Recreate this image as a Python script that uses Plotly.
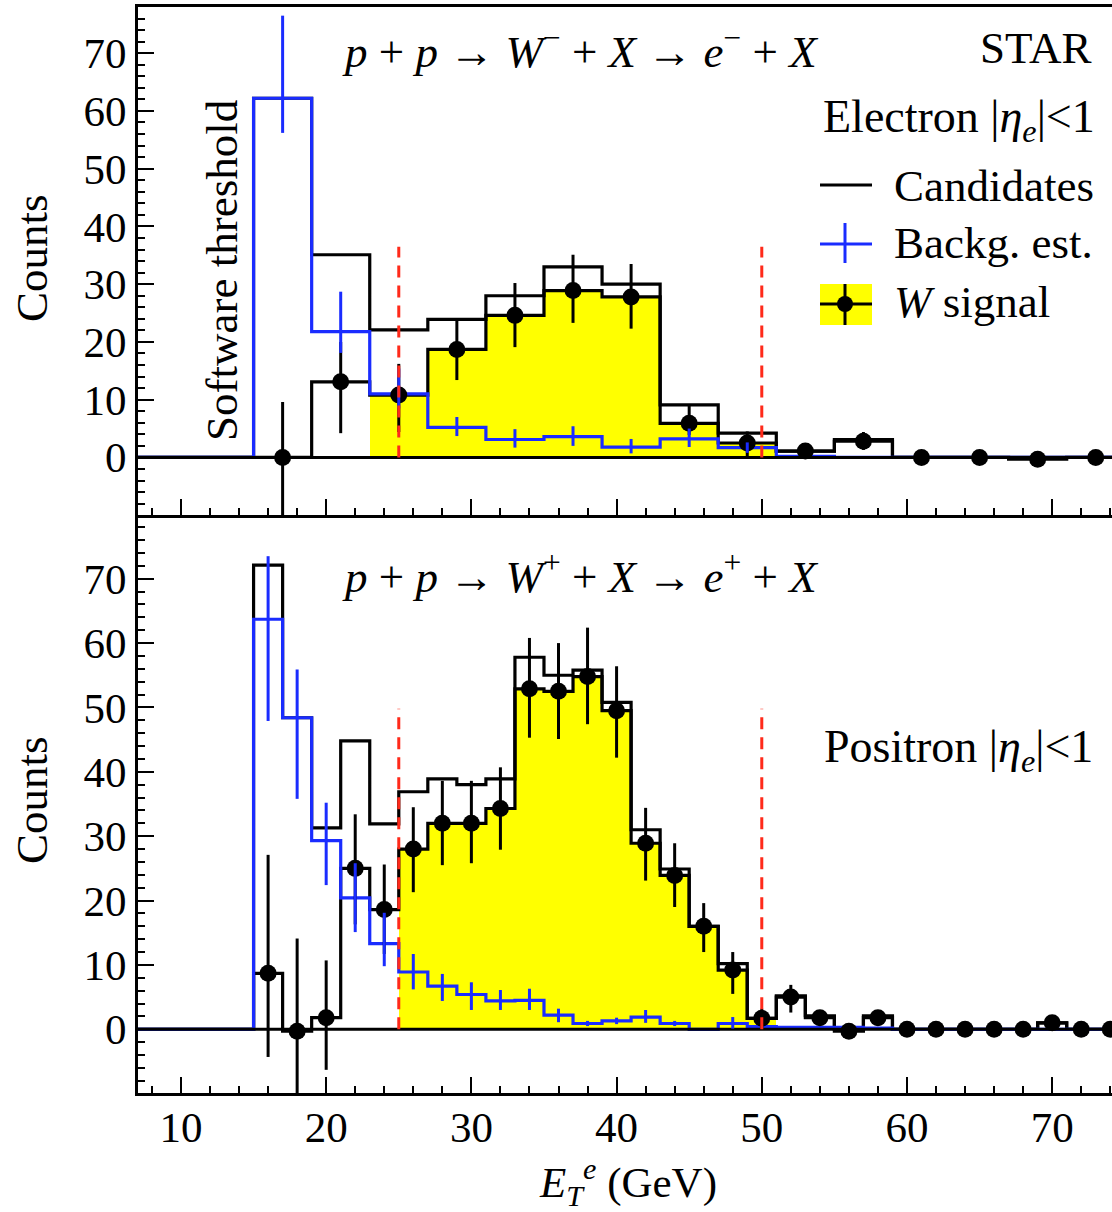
import plotly.graph_objects as go

W, H = 1112, 1212
FONT = "Liberation Serif, Times New Roman, serif"

# ---------------- data: top panel (W-), 4 GeV bins ----------------
top_edges = [15, 19, 23, 27, 31, 35, 39, 43, 47, 51, 55, 59, 63, 67, 71, 75]
top_centers = [17, 21, 25, 29, 33, 37, 41, 45, 49, 53, 57, 61, 65, 69, 73]
top_cand = [62.2, 35.1, 22.1, 23.9, 28.0, 33.0, 30.0, 9.1, 4.2, 1.1, 3.1, 0, 0, 0, 0]
top_bkg = [62.2, 21.8, 11.0, 5.2, 3.1, 3.6, 1.8, 3.2, 1.7, 0.2, 0, 0, 0, 0, 0]
top_bkg_ep = [14.3, 6.9, 4.4, 1.8, 1.8, 1.8, 1.4, 1.8, 0.9, 0, 0, 0, 0, 0, 0]
top_bkg_em = [6.0, 3.7, 2.5, 1.5, 1.4, 1.6, 1.1, 1.4, 0.9, 0, 0, 0, 0, 0, 0]
top_sig = [0, 13.1, 10.8, 18.7, 24.6, 28.9, 27.8, 5.9, 2.5, 1.1, 2.8, 0, 0, -0.3, 0]
top_sig_ep = [9.6, 6.9, 5.4, 5.0, 5.6, 6.2, 5.7, 3.0, 2.0, 0.8, 1.6, 0, 0, 0, 0]
top_sig_em = [10.5, 8.9, 6.4, 5.3, 5.5, 5.6, 5.5, 2.0, 2.3, 0.8, 1.5, 0, 0, 0, 0]
top_yellow_centers = [25, 29, 33, 37, 41, 45, 49]
top_yellow = [10.8, 18.7, 24.6, 28.9, 27.8, 5.9, 2.5]

# ---------------- data: bottom panel (W+), 2 GeV bins ----------------
bot_edges = [15, 17, 19, 21, 23, 25, 27, 29, 31, 33, 35, 37, 39, 41, 43, 45, 47, 49,
             51, 53, 55, 57, 59, 61, 63, 65, 67, 69, 71, 73, 75]
bot_centers = [16, 18, 20, 22, 24, 26, 28, 30, 32, 34, 36, 38, 40, 42, 44, 46, 48, 50,
               52, 54, 56, 58, 60, 62, 64, 66, 68, 70, 72, 74]
bot_cand = [72.1, 48.4, 31.3, 44.8, 31.9, 36.9, 38.9, 38.0, 38.9, 57.8, 55.0, 55.8, 50.8,
            31.0, 24.9, 16.0, 10.2, 1.7, 5.2, 2.1, 0, 2.1, 0, 0, 0, 0, 0, 1.0, 0, 0]
bot_bkg = [63.7, 48.4, 29.3, 20.4, 13.3, 8.9, 6.7, 5.4, 4.4, 4.5, 2.2, 0.9, 1.3, 1.9, 0.9,
           0, 0.9, 0.4, 0.3, 0.3, 0.3, 0.2, 0, 0, 0, 0, 0, 0, 0, 0]
bot_bkg_ep = [9.8, 7.5, 5.9, 5.4, 4.8, 2.8, 1.9, 1.9, 1.7, 1.8, 1.0, 0.4, 0.5, 1.1, 0.4,
              0, 1.0, 0, 0, 0, 0, 0, 0, 0, 0, 0, 0, 0, 0, 0]
bot_bkg_em = [15.8, 12.6, 6.9, 5.3, 3.5, 2.7, 2.3, 2.4, 1.4, 1.5, 1.1, 0.4, 0.5, 0.9, 0.4,
              0, 0.8, 0, 0, 0, 0, 0, 0, 0, 0, 0, 0, 0, 0, 0]
bot_sig = [8.7, -0.3, 1.8, 25.0, 18.6, 28.0, 32.0, 32.0, 34.3, 52.9, 52.5, 54.8, 49.5,
           28.9, 23.9, 16.0, 9.2, 1.7, 5.0, 1.8, -0.3, 1.8, 0, 0, 0, 0, 0, 1.0, 0, 0]
bot_sig_ep = [18.4, 14.4, 8.9, 8.4, 7.0, 6.5, 6.6, 6.6, 6.4, 7.9, 7.5, 7.6, 6.9, 5.5, 5.0,
              3.6, 2.8, 1.5, 1.9, 1.2, 0, 1.2, 0, 0, 0, 0, 0, 0.8, 0, 0]
bot_sig_em = [13.0, 14.0, 8.1, 8.7, 6.9, 6.7, 6.5, 6.2, 6.4, 7.6, 7.4, 7.4, 7.3, 5.8, 4.9,
              4.0, 3.7, 1.5, 2.4, 1.2, 0, 1.2, 0, 0, 0, 0, 0, 0.8, 0, 0]
bot_yellow_centers = [26, 28, 30, 32, 34, 36, 38, 40, 42, 44, 46, 48, 50]
bot_yellow = [28.0, 32.0, 32.0, 34.3, 52.9, 52.5, 54.8, 49.5, 28.9, 23.9, 16.0, 9.2, 1.7]

# selection window (GeV) and x range
cut_lo, cut_hi = 25, 50
top_cut_height = 36.5
bot_cut_height = 49.8
xmin, xmax = 7.04, 74.12
top_yrange = [-9.97, 78.0]
bot_yrange = [-9.9, 79.9]

x_ticks = [10, 20, 30, 40, 50, 60, 70]
y_ticks = [0, 10, 20, 30, 40, 50, 60, 70]

BLACK = "#000000"
BLUE = "#1a2cff"
YELLOW = "#ffff00"
RED = "#ff2a1a"


def step_xy(edges, vals, x0):
    xs = [x0] + list(edges)
    ys = [0] + list(vals) + [vals[-1]]
    return xs, ys


fig = go.Figure()


def add_panel(xa, ya, edges, centers, cand, bkg, bkg_ep, bkg_em, sig, sig_ep, sig_em,
              ycent, yvals, width, cut_h):
    # yellow W signal fill
    fig.add_trace(go.Bar(x=ycent, y=yvals, width=[width] * len(ycent),
                         marker=dict(color=YELLOW, line=dict(width=0)),
                         xaxis=xa, yaxis=ya, showlegend=False, hoverinfo="skip"))
    # candidates
    xs, ys = step_xy(edges, cand, xmin)
    fig.add_trace(go.Scatter(x=xs, y=ys, mode="lines", line=dict(color=BLACK, width=3.2, shape="hv"),
                             xaxis=xa, yaxis=ya, showlegend=False))
    # signal outline
    xs, ys = step_xy(edges, sig, xmin)
    fig.add_trace(go.Scatter(x=xs, y=ys, mode="lines", line=dict(color=BLACK, width=3.2, shape="hv"),
                             xaxis=xa, yaxis=ya, showlegend=False))
    # background outline
    xs, ys = step_xy(edges, bkg, xmin)
    fig.add_trace(go.Scatter(x=xs, y=ys, mode="lines", line=dict(color=BLUE, width=3.2, shape="hv"),
                             xaxis=xa, yaxis=ya, showlegend=False))
    # zero line
    fig.add_trace(go.Scatter(x=[xmin, xmax], y=[0, 0], mode="lines",
                             line=dict(color=BLACK, width=3),
                             xaxis=xa, yaxis=ya, showlegend=False))
    # signal points
    fig.add_trace(go.Scatter(x=centers, y=sig, mode="markers",
                             marker=dict(color=BLACK, size=17),
                             error_y=dict(type="data", symmetric=False, array=sig_ep,
                                          arrayminus=sig_em, color=BLACK, thickness=3, width=0),
                             xaxis=xa, yaxis=ya, showlegend=False, cliponaxis=True))
    # background error bars
    fig.add_trace(go.Scatter(x=centers, y=bkg, mode="markers",
                             marker=dict(color=BLUE, size=1, opacity=0),
                             error_y=dict(type="data", symmetric=False, array=bkg_ep,
                                          arrayminus=bkg_em, color=BLUE, thickness=3, width=0),
                             xaxis=xa, yaxis=ya, showlegend=False))
    # selection cuts
    for xc in (cut_lo, cut_hi):
        fig.add_trace(go.Scatter(x=[xc, xc], y=[0, cut_h], mode="lines",
                                 line=dict(color=RED, width=3, dash="12px,8px"),
                                 xaxis=xa, yaxis=ya, showlegend=False))


add_panel("x2", "y2", top_edges, top_centers, top_cand, top_bkg, top_bkg_ep, top_bkg_em,
          top_sig, top_sig_ep, top_sig_em, top_yellow_centers, top_yellow, 4, top_cut_height)
add_panel("x", "y", bot_edges, bot_centers, bot_cand, bot_bkg, bot_bkg_ep, bot_bkg_em,
          bot_sig, bot_sig_ep, bot_sig_em, bot_yellow_centers, bot_yellow, 2, bot_cut_height)


def px(x):
    return x / W


def py(y):
    return 1 - y / H


xdom = [px(138), 1.0]
top_dom = [py(515), py(7)]
bot_dom = [py(1093), py(515)]

axis_common = dict(showline=True, linewidth=3, linecolor=BLACK, ticks="inside",
                   ticklen=16, tickwidth=2, tickcolor=BLACK, showgrid=False, zeroline=False,
                   tickfont=dict(family=FONT, size=43, color=BLACK))
minor_common = dict(dtick=2, tick0=0, ticklen=7, tickwidth=2, ticks="inside", tickcolor=BLACK)

fig.update_layout(
    width=W, height=H, margin=dict(l=0, r=0, t=0, b=0),
    paper_bgcolor="white", plot_bgcolor="white",
    barmode="overlay", bargap=0, showlegend=False,
    xaxis=dict(domain=xdom, anchor="y", range=[xmin, xmax], tickmode="array",
               tickvals=x_ticks, ticktext=[str(v) for v in x_ticks],
               ticklabelstandoff=-6, minor=minor_common, **axis_common),
    xaxis2=dict(domain=xdom, anchor="y2", range=[xmin, xmax], tickmode="array",
                tickvals=x_ticks, showticklabels=False, mirror=True,
                minor=minor_common, **axis_common),
    yaxis=dict(domain=bot_dom, anchor="x", range=bot_yrange, tickmode="array",
               tickvals=y_ticks, ticktext=[str(v) for v in y_ticks],
               minor=minor_common, **axis_common),
    yaxis2=dict(domain=top_dom, anchor="x2", range=top_yrange, tickmode="array",
                tickvals=y_ticks, ticktext=[str(v) for v in y_ticks],
                minor=minor_common, **axis_common),
)

TF = dict(family=FONT, size=45, color=BLACK)


def ann(text, x, y, xanchor="center", yanchor="middle", angle=0, size=45):
    fig.add_annotation(text=text, x=px(x), y=py(y), xref="paper", yref="paper",
                       xanchor=xanchor, yanchor=yanchor, showarrow=False,
                       font=dict(family=FONT, size=size, color=BLACK),
                       textangle=angle)


ann("<i>p</i> + <i>p</i> → <i>W</i><sup>−</sup> + <i>X</i> → <i>e</i><sup>−</sup> + <i>X</i>", 580, 48)
ann("STAR", 1093, 48, xanchor="right")
ann("Electron |<i>η</i><sub><i>e</i></sub>|&lt;1", 1097, 120, xanchor="right", size=46)
ann("Candidates", 892, 186, xanchor="left")
ann("Backg. est.", 892, 243, xanchor="left")
ann("<i>W</i> signal", 892, 302, xanchor="left")
ann("Software threshold", 222, 271, angle=-90)
ann("Counts", 32, 258, angle=-90)
ann("Counts", 32, 800, angle=-90)
ann("<i>p</i> + <i>p</i> → <i>W</i><sup>+</sup> + <i>X</i> → <i>e</i><sup>+</sup> + <i>X</i>", 580, 573)
ann("Positron |<i>η</i><sub><i>e</i></sub>|&lt;1", 1095, 750, xanchor="right", size=46)
ann("<i>E</i><sub><i>T</i></sub><sup><i>e</i></sup> (GeV)", 628, 1182, size=43)

# legend symbols (paper coords)
P = dict(xref="paper", yref="paper")
shapes = [
    dict(type="line", x0=px(820), x1=px(872), y0=py(185), y1=py(185), line=dict(color=BLACK, width=3), **P),
    dict(type="line", x0=px(820), x1=px(872), y0=py(244), y1=py(244), line=dict(color=BLUE, width=3), **P),
    dict(type="line", x0=px(845), x1=px(845), y0=py(223), y1=py(263), line=dict(color=BLUE, width=3), **P),
    dict(type="rect", x0=px(820), x1=px(872), y0=py(325), y1=py(284), fillcolor=YELLOW, line=dict(width=0), **P),
    dict(type="line", x0=px(820), x1=px(872), y0=py(304), y1=py(304), line=dict(color=BLACK, width=3), **P),
    dict(type="line", x0=px(845), x1=px(845), y0=py(284), y1=py(325), line=dict(color=BLACK, width=3), **P),
    dict(type="circle", x0=px(837), x1=px(853), y0=py(312), y1=py(296), fillcolor=BLACK, line=dict(width=0), **P),
]
fig.update_layout(shapes=shapes)

fig.write_html("out.html")
